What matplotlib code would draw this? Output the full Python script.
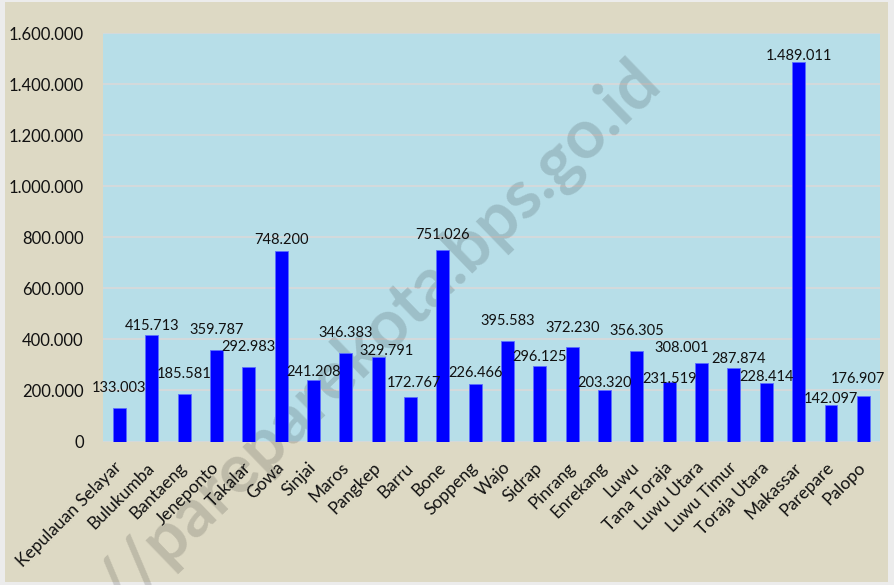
import matplotlib
matplotlib.use("Agg")
import matplotlib.pyplot as plt
from matplotlib.patches import Rectangle
from matplotlib.ticker import FuncFormatter

# Jumlah penduduk per kabupaten/kota, Sulawesi Selatan
wilayah = ["Kepulauan Selayar", "Bulukumba", "Bantaeng", "Jeneponto", "Takalar",
           "Gowa", "Sinjai", "Maros", "Pangkep", "Barru", "Bone", "Soppeng",
           "Wajo", "Sidrap", "Pinrang", "Enrekang", "Luwu", "Tana Toraja",
           "Luwu Utara", "Luwu Timur", "Toraja Utara", "Makassar", "Parepare",
           "Palopo"]
penduduk = [133003, 415713, 185581, 359787, 292983, 748200, 241208, 346383,
            329791, 172767, 751026, 226466, 395583, 296125, 372230, 203320,
            356305, 231519, 308001, 287874, 228414, 1489011, 142097, 176907]
y_ticks = [0, 200000, 400000, 600000, 800000, 1000000, 1200000, 1400000, 1600000]

# geser label angka (piksel) dari puncak batang
label_dx = [0, 0, 0, 0, 0, 0, 0, 0, 8, 3, 0, 0,
            0, 0, 0, 0, 0, 0, -20, 5, 0, 0, 0, -5]
label_dy = [20, 9, 20, 20, 20, 11, 7.5, 20, 6, 14, 14.5, 11,
            20, 8.5, 19, 7, 20, 3, 14.5, 8.6, 6, 6, 6, 17]


def ribuan(v, pos):
    return f"{int(v):,}".replace(",", ".")


plt.rcParams['font.family'] = ['Lato', 'DejaVu Sans']

fig = plt.figure(figsize=(8.94, 5.85), dpi=100, facecolor="#ECECEC")
fig.patches.append(Rectangle((5 / 894, 1 - 582 / 585), 883 / 894, 580 / 585,
                             transform=fig.transFigure, facecolor="#DDD9C4",
                             edgecolor="none", zorder=-5))

ax = fig.add_axes([103.3 / 894, 1 - 441.5 / 585, 776.2 / 894, 408.2 / 585])
ax.set_facecolor("#B7DEE8")

x = list(range(len(wilayah)))
ax.bar(x, penduduk, width=0.4, color="#0000FF", edgecolor="#5B6FFF",
       linewidth=0.6, zorder=3)

for i, v in enumerate(penduduk):
    ax.annotate(ribuan(v, None), (i, v), xytext=(label_dx[i], label_dy[i]),
                textcoords="offset pixels", ha="center", va="center",
                fontsize=10.5, color="#111111", zorder=4)

ax.set_xlim(-0.5, len(wilayah) - 0.5)
ax.set_ylim(0, 1600000)
ax.set_yticks(y_ticks)
ax.yaxis.set_major_formatter(FuncFormatter(ribuan))
ax.yaxis.grid(True, color="#D9D9D9", linewidth=1.2, zorder=1)
ax.set_axisbelow(True)
for s in ax.spines.values():
    s.set_visible(False)
ax.tick_params(axis="both", length=0, labelsize=12.5, colors="#111111")
ax.tick_params(axis="y", labelsize=12, pad=14)
ax.set_xticks(x)
ax.set_xticklabels(wilayah, rotation=45, ha="right", va="center",
                   rotation_mode="anchor")
ax.tick_params(axis="x", pad=17)

# watermark
ax.text(0.356, 0.258, "//pareparekota.bps.go.id", transform=ax.transAxes,
        fontsize=49, fontweight="bold", color="black", alpha=0.14,
        rotation=44, ha="center", va="center", clip_on=False, zorder=2)

fig.savefig("out.png", dpi=100, facecolor=fig.get_facecolor())
